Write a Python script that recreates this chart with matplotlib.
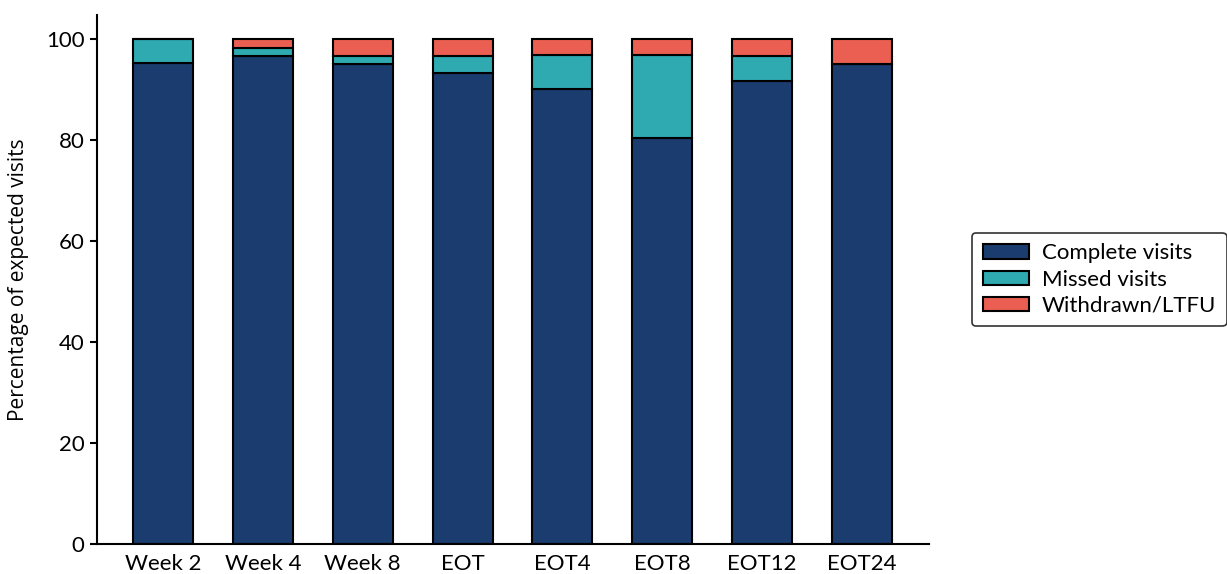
import matplotlib.pyplot as plt
import numpy as np

visits = ["Week 2", "Week 4", "Week 8", "EOT", "EOT4", "EOT8", "EOT12", "EOT24"]
complete = [95.2, 96.7, 95.1, 93.4, 90.2, 80.5, 91.8, 95.1]
missed = [4.8, 1.6, 1.6, 3.3, 6.6, 16.4, 4.9, 0.0]
withdrawn = [0.0, 1.7, 3.3, 3.3, 3.2, 3.1, 3.3, 4.9]

colors = ["#1B3C6E", "#2EAAB0", "#EA5F51"]
labels = ["Complete visits", "Missed visits", "Withdrawn/LTFU"]

fig = plt.figure(figsize=(12.27, 5.74), dpi=100)
ax = fig.add_axes([97/1227, 1 - 544/574, (929 - 97)/1227, (544 - 15)/574])

x = np.arange(len(visits))
bottom = np.zeros(len(visits))
for vals, c, lab in zip([complete, missed, withdrawn], colors, labels):
    vals = np.array(vals)
    ax.bar(x, vals, 0.6, bottom=bottom, color=c, edgecolor="black",
           linewidth=1.5, label=lab)
    bottom += vals

ax.set_xlim(-0.66, 7.67)
ax.set_ylim(0, 104.8)
ax.set_yticks([0, 20, 40, 60, 80, 100])
ax.set_xticks(x)
ax.set_xticklabels(visits, fontfamily="Lato", fontsize=16)
for t in ax.get_yticklabels():
    t.set_fontfamily("Lato")
    t.set_fontsize(16)
ax.tick_params(axis="x", length=0, pad=7)
ax.tick_params(axis="y", length=5, width=1.5, pad=4)
ax.set_ylabel("Percentage of expected visits", fontfamily="Open Sans",
              fontsize=15, labelpad=12)

for s in ["top", "right"]:
    ax.spines[s].set_visible(False)
for s in ["left", "bottom"]:
    ax.spines[s].set_linewidth(1.5)

leg = ax.legend(loc="center left", bbox_to_anchor=((972 - 97) / 832, 0.5),
                borderaxespad=0,
                prop={"family": "Lato", "size": 16}, frameon=True,
                fancybox=True, edgecolor="black", handlelength=2.1,
                handleheight=0.6, labelspacing=0.28, borderpad=0.48,
                handletextpad=0.55)
leg.get_frame().set_linewidth(1.2)

fig.savefig("out.png", dpi=100)
